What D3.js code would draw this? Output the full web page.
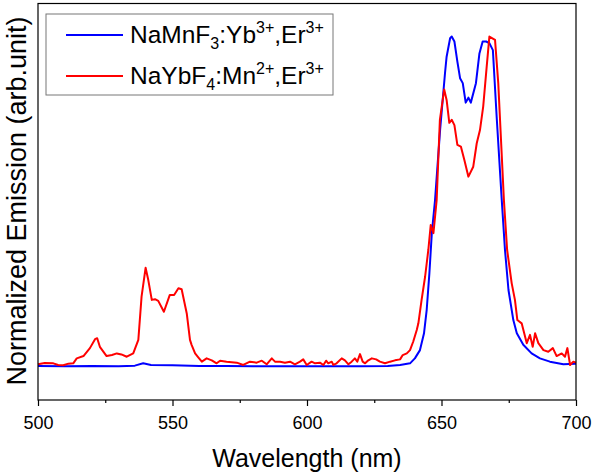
<!DOCTYPE html>
<html><head><meta charset="utf-8">
<script src="https://cdn.jsdelivr.net/npm/d3@7"></script>
<style>body{margin:0;background:#fff}svg{display:block;font-family:"Liberation Sans",Arial,sans-serif}</style>
</head><body>
<svg id="c" width="594" height="473"></svg>
<script>
const redWl = [500,502.5,505.7,507.5,509.4,511.3,513.1,514.4,516.9,519.3,521.2,522,523,525.5,527.5,529.3,531,533,535.4,537.3,538.5,540,541,542.3,543.5,544.7,546.8,549,550.6,552.2,553.4,555.3,556.5,557.1,558.4,559.5,560.9,562.7,564.6,566.4,567.7,570.1,573.9,576.3,578.8,581.3,583.2,585,586.9,588.1,590,591.8,593.7,595.5,597.4,598.6,599.9,601.7,603,604.8,606.1,607.1,607.9,609.2,609.8,611,612.9,614.1,615.4,616.6,617.8,618.7,619.7,620.7,621.6,622.8,624.1,625.7,627.1,629,630.9,632.7,634.6,635.6,637.1,638.3,639.5,640.8,641.4,642.6,643.9,645.1,646,647,648.2,649.4,651,651.9,652.9,653.8,654.8,655.9,657.2,658.5,660,661.8,663.1,664.3,665.5,666.8,667.8,669.9,671.1,671.7,673.2,674.4,676.1,677.3,678.2,679.8,681.7,682.9,683.9,684.8,686,687.9,689.7,691.4,692.8,694.7,695.9,696.8,697.8,699,700];
const redVal = [0.008,0.012,0.011,0.006,0.005,0.01,0.011,0.026,0.033,0.057,0.084,0.087,0.061,0.033,0.036,0.041,0.038,0.031,0.041,0.082,0.213,0.30,0.263,0.203,0.205,0.2,0.167,0.218,0.218,0.238,0.235,0.162,0.082,0.067,0.041,0.03,0.016,0.026,0.02,0.011,0.019,0.016,0.013,0.006,0.016,0.013,0.019,0.008,0.026,0.016,0.016,0.013,0.016,0.008,0.016,0.023,0.006,0.016,0.011,0.013,0.006,0.019,0.011,0.016,0.006,0.011,0.026,0.02,0.008,0.016,0.026,0.016,0.039,0.016,0.011,0.02,0.026,0.023,0.016,0.011,0.016,0.02,0.023,0.036,0.041,0.051,0.077,0.112,0.132,0.203,0.273,0.354,0.43,0.405,0.505,0.748,0.84,0.808,0.739,0.748,0.732,0.672,0.667,0.626,0.576,0.606,0.677,0.717,0.788,0.909,1.0,0.99,0.859,0.758,0.505,0.354,0.253,0.203,0.142,0.132,0.072,0.097,0.061,0.102,0.072,0.051,0.046,0.057,0.033,0.041,0.031,0.057,0.006,0.016,0.013];
const blueWl = [500,510,520,530,536,539.1,542,550,560,570,580,590,600,610,620,630,634.6,638.3,640.1,642,643.5,644.5,645.5,646.4,647.6,649.5,651.3,651.9,653.2,653.8,654.8,655.9,656.9,657.9,659,660,660.9,662.8,664.1,665.3,666.6,667.8,669.1,670.5,672.4,673.6,674.9,676.7,678,680.4,683.5,686.6,690.3,695.3,699.6,700];
const blueVal = [0.003,0.002,0.003,0.002,0.004,0.011,0.006,0.005,0.003,0.003,0.002,0.002,0.002,0.002,0.002,0.003,0.006,0.011,0.026,0.051,0.102,0.173,0.284,0.405,0.505,0.72,0.889,0.939,0.995,1.0,0.985,0.924,0.874,0.859,0.80,0.815,0.80,0.859,0.949,0.985,0.985,0.98,0.959,0.758,0.505,0.354,0.233,0.142,0.102,0.067,0.041,0.026,0.016,0.008,0.01,0.01];
const xTicks = [500,550,600,650,700];
const xMinor = [525,575,625,675];

const L=38, R=576, T=3.5, B=400;
const svg = d3.select("#c");
const x = d3.scaleLinear().domain([500,700]).range([L,R]);
const y = d3.scaleLinear().domain([-0.1,1.1]).range([B,T]);

const line = d3.line().x(d=>x(d[0])).y(d=>y(d[1]));
const blueData = d3.zip(blueWl, blueVal);
const redData = d3.zip(redWl, redVal);

svg.append("path").datum(blueData).attr("d",line).attr("fill","none").attr("stroke","#0000ff").attr("stroke-width",2).attr("stroke-linejoin","round");
svg.append("path").datum(redData).attr("d",line).attr("fill","none").attr("stroke","#ff0000").attr("stroke-width",2).attr("stroke-linejoin","round");

// frame
svg.append("rect").attr("x",L).attr("y",T).attr("width",R-L).attr("height",B-T).attr("fill","none").attr("stroke","#000").attr("stroke-width",1.2);

// x axis
const ax = svg.append("g").attr("transform",`translate(0,${B})`)
  .call(d3.axisBottom(x).tickValues(xTicks).tickSize(6).tickSizeOuter(0).tickFormat(d3.format("d")));
ax.select(".domain").remove();
ax.selectAll("text").attr("font-size",18).attr("font-family","Liberation Sans, Arial, sans-serif").attr("fill","#000").attr("dy",0).attr("y",29);
ax.selectAll("line").attr("stroke-width",1.2);
const axm = svg.append("g").attr("transform",`translate(0,${B})`)
  .call(d3.axisBottom(x).tickValues(xMinor).tickSize(3).tickFormat(""));
axm.select(".domain").remove();
axm.selectAll("line").attr("stroke-width",1.2);

svg.append("text").attr("x",(L+R)/2).attr("y",467).attr("text-anchor","middle").attr("font-size",25).text("Wavelength (nm)");
svg.append("text").attr("transform","translate(26,201) rotate(-90)").attr("text-anchor","middle").attr("font-size",27).text("Normalized Emission (arb.unit)");

// legend
const lg = svg.append("g");
lg.append("rect").attr("x",46).attr("y",14).attr("width",287).attr("height",81).attr("fill","#fff").attr("stroke","#777").attr("stroke-width",1);
const items = [
  {c:"#0000ff", parts:[["NaMnF",""],["3","sub"],[":Yb",""],["3+","sup"],[",Er",""],["3+","sup"]]},
  {c:"#ff0000", parts:[["NaYbF",""],["4","sub"],[":Mn",""],["2+","sup"],[",Er",""],["3+","sup"]]}
];
items.forEach((it,i)=>{
  const cy = 35 + i*41;
  lg.append("line").attr("x1",66).attr("x2",123).attr("y1",cy).attr("y2",cy).attr("stroke",it.c).attr("stroke-width",2);
  const t = lg.append("text").attr("x",130).attr("y",cy+8).attr("font-size",24.5);
  let shift=0;
  it.parts.forEach(p=>{
    const target = p[1]==="sub"?6:(p[1]==="sup"?-10:0);
    const ts = t.append("tspan").text(p[0]).attr("dy", target-shift);
    if(p[1]) ts.attr("font-size",16);
    shift = target;
  });
});
</script>
</body></html>
